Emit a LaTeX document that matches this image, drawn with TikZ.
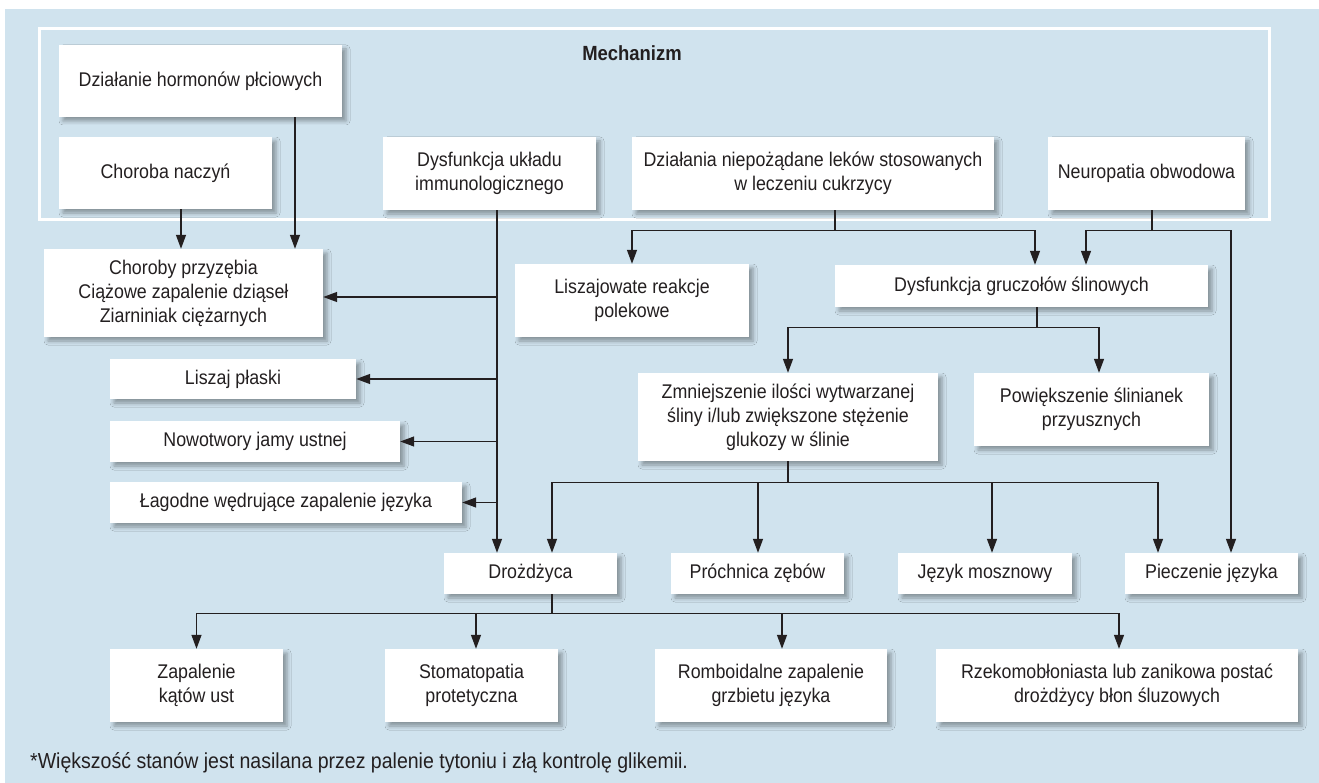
\documentclass[tikz,border=0pt]{standalone}
\usepackage{fontspec}
\setmainfont[FakeStretch=0.9]{Liberation Sans}
\usetikzlibrary{arrows.meta,shadows.blur}
\definecolor{bg}{RGB}{208,227,238}
\definecolor{ink}{RGB}{35,31,32}
\begin{document}
\begin{tikzpicture}[x=1pt,y=-1pt,
  box/.style={fill=white, align=center, inner sep=0pt, text=ink,
    font=\fontsize{19.8}{24}\selectfont,
    blur shadow={shadow xshift=4pt, shadow yshift=-4pt, shadow blur radius=4pt, shadow opacity=35}},
  conn/.style={draw=ink, line width=1.3pt},
  arr/.style={conn, -{Triangle[width=10pt,length=14pt]}}]
\useasboundingbox (0,0) rectangle (1319,783);
\fill[bg] (5,9) rectangle (1319,783);
\draw[white, line width=3pt] (39,28.5) rectangle (1269,220);
\node[text=ink, font=\bfseries\fontsize{20.5}{22}\selectfont] (mech) at (632,53) {Mechanizm};

\node[box, minimum width=283, minimum height=72] (hor) at (200.5,81) {Działanie hormonów płciowych};
\node[box, minimum width=213, minimum height=72] (nacz) at (165.5,173) {Choroba naczyń};
\node[box, minimum width=213, minimum height=73] (imm) at (489.5,173.5) {Dysfunkcja układu\\immunologicznego};
\node[box, minimum width=362, minimum height=73] (dzial) at (813,173.5) {Działania niepożądane leków stosowanych\\w leczeniu cukrzycy};
\node[box, minimum width=197, minimum height=73] (neuro) at (1146.5,173.5) {Neuropatia obwodowa};
\node[box, minimum width=279, minimum height=88] (prz) at (183.5,293) {Choroby przyzębia\\Ciążowe zapalenie dziąseł\\Ziarniniak ciężarnych};
\node[box, minimum width=246, minimum height=40] (lisz) at (233,379) {Liszaj płaski};
\node[box, minimum width=290, minimum height=41] (now) at (255,441.5) {Nowotwory jamy ustnej};
\node[box, minimum width=352, minimum height=41] (lag) at (286,502.5) {Łagodne wędrujące zapalenie języka};
\node[box, minimum width=234, minimum height=73] (lrp) at (632,300.5) {Liszajowate reakcje\\polekowe};
\node[box, minimum width=373, minimum height=42] (dgs) at (1021.5,286) {Dysfunkcja gruczołów ślinowych};
\node[box, minimum width=300, minimum height=88] (zmn) at (788,417) {Zmniejszenie ilości wytwarzanej\\śliny i/lub zwiększone stężenie\\glukozy w ślinie};
\node[box, minimum width=235, minimum height=73] (pow) at (1091.5,409.5) {Powiększenie ślinianek\\przyusznych};
\node[box, minimum width=173, minimum height=41] (drozd) at (530.5,573.5) {Drożdżyca};
\node[box, minimum width=173, minimum height=41] (proch) at (757.5,573.5) {Próchnica zębów};
\node[box, minimum width=174, minimum height=41] (jez) at (985,573.5) {Język mosznowy};
\node[box, minimum width=173, minimum height=41] (piecz) at (1211.5,573.5) {Pieczenie języka};
\node[box, minimum width=173, minimum height=73] (zap) at (196.5,685.5) {Zapalenie\\kątów ust};
\node[box, minimum width=173, minimum height=73] (stom) at (471.5,685.5) {Stomatopatia\\protetyczna};
\node[box, minimum width=232, minimum height=73] (romb) at (771,685.5) {Romboidalne zapalenie\\grzbietu języka};
\node[box, minimum width=362, minimum height=73] (rzek) at (1117,685.5) {Rzekomobłoniasta lub zanikowa postać\\drożdżycy błon śluzowych};

\node[anchor=west, text=ink, inner sep=0pt, font=\fontsize{21.7}{24}\selectfont] (fn) at (30,763) {*Większość stanów jest nasilana przez palenie tytoniu i złą kontrolę glikemii.};

% connectors
\draw[arr] ([xshift=15.5pt]nacz.south) -- ([xshift=15.5pt]nacz.south |- prz.north);
\draw[arr] ([xshift=94.5pt]hor.south) -- ([xshift=94.5pt]hor.south |- prz.north);

\coordinate (iml) at ([xshift=7.5pt]imm.south);
\coordinate (pe) at ([yshift=-4pt]prz.east);
\draw[arr] (iml) -- (iml |- drozd.north);
\draw[arr] (iml |- pe) -- (pe);
\draw[arr] (iml |- lisz.east) -- (lisz.east);
\draw[arr] (iml |- now.east) -- (now.east);
\draw[arr] (iml |- lag.east) -- (lag.east);

\coordinate (dz) at ([xshift=22pt]dzial.south);
\coordinate (dzb) at ([yshift=-20pt]dz);
\draw[conn] (dz) -- (dzb);
\draw[arr] (dzb) -| (lrp.north);
\draw[arr] (dzb) -| ([xshift=13.5pt]dgs.north);

\coordinate (ne) at ([xshift=5.5pt]neuro.south);
\coordinate (neb) at ([yshift=-20pt]ne);
\draw[conn] (ne) -- (neb);
\draw[arr] (neb) -| ([xshift=64.5pt]dgs.north);
\draw[arr] (neb) -| ([xshift=19.5pt]piecz.north);

\coordinate (dg) at ([xshift=15.5pt]dgs.south);
\coordinate (dgb) at ([yshift=-20pt]dg);
\draw[conn] (dg) -- (dgb);
\draw[arr] (dgb) -| (zmn.north);
\draw[arr] (dgb) -| ([xshift=7.5pt]pow.north);

\coordinate (zmb) at ([yshift=-21pt]zmn.south);
\draw[conn] (zmn.south) -- (zmb);
\draw[arr] (zmb) -| ([xshift=21.5pt]drozd.north);
\draw[arr] (zmb) -| ([xshift=0.5pt]proch.north);
\draw[arr] (zmb) -| ([xshift=7pt]jez.north);
\draw[arr] (zmb) -| ([xshift=-53.5pt]piecz.north);

\coordinate (dr) at ([xshift=21.5pt]drozd.south);
\coordinate (drb) at ([yshift=-19pt]dr);
\draw[conn] (dr) -- (drb);
\draw[arr] (drb) -| (zap.north);
\draw[arr] (drb) -| ([xshift=4.5pt]stom.north);
\draw[arr] (drb) -| ([xshift=11pt]romb.north);
\draw[arr] (drb) -| ([xshift=2pt]rzek.north);
\end{tikzpicture}
\end{document}
